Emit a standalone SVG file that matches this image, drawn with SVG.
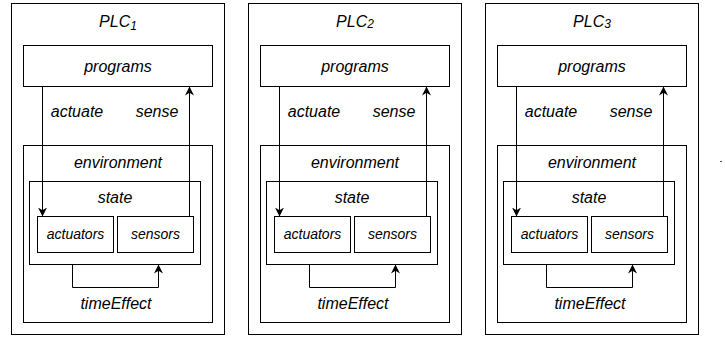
<svg xmlns="http://www.w3.org/2000/svg" width="725" height="337" viewBox="0 0 725 337">
<style>
.b{fill:#fff;stroke:#000;stroke-width:1}
.c{fill:none;stroke:#000;stroke-width:1}
text{font-family:"Liberation Sans",Arial,sans-serif;font-style:italic;font-size:16px;fill:#000;text-anchor:middle}
.s{font-size:14px}
</style>
<defs>
<marker id="arr" viewBox="0 0 10 10" refX="10" refY="5" markerWidth="9" markerHeight="9" markerUnits="userSpaceOnUse" orient="auto">
<path d="M0,0 L10,5 L0,10 L3,5 z" fill="#000"/>
</marker>
</defs>
<g id="plc1">
<rect class="b" x="11.5" y="3.5" width="213" height="331"/>
<text x="118" y="27">PLC<tspan font-size="12" dy="3">1</tspan></text>
<g id="programs1"><rect class="b" x="23.5" y="45.5" width="189" height="41"/><text x="118" y="72">programs</text></g>
<g id="environment1"><rect class="b" x="23.5" y="145.5" width="189" height="177"/><text x="118" y="168">environment</text></g>
<g id="state1"><rect class="b" x="29.5" y="181.5" width="171" height="83"/><text x="115" y="203">state</text></g>
<g id="actuators1"><rect class="b" x="37.5" y="216.5" width="76" height="36"/><text class="s" x="75.5" y="239">actuators</text></g>
<g id="sensors1"><rect class="b" x="117.5" y="216.5" width="76" height="36"/><text class="s" x="155.5" y="239">sensors</text></g>
</g>
<g id="plc2" transform="translate(237,0)">
<rect class="b" x="11.5" y="3.5" width="213" height="331"/>
<text x="118" y="27">PLC<tspan font-size="12" dy="1">2</tspan></text>
<g id="programs2"><rect class="b" x="23.5" y="45.5" width="189" height="41"/><text x="118" y="72">programs</text></g>
<g id="environment2"><rect class="b" x="23.5" y="145.5" width="189" height="177"/><text x="118" y="168">environment</text></g>
<g id="state2"><rect class="b" x="29.5" y="181.5" width="171" height="83"/><text x="115" y="203">state</text></g>
<g id="actuators2"><rect class="b" x="37.5" y="216.5" width="76" height="36"/><text class="s" x="75.5" y="239">actuators</text></g>
<g id="sensors2"><rect class="b" x="117.5" y="216.5" width="76" height="36"/><text class="s" x="155.5" y="239">sensors</text></g>
</g>
<g id="plc3" transform="translate(474,0)">
<rect class="b" x="11.5" y="3.5" width="213" height="331"/>
<text x="118" y="27">PLC<tspan font-size="12" dy="1">3</tspan></text>
<g id="programs3"><rect class="b" x="23.5" y="45.5" width="189" height="41"/><text x="118" y="72">programs</text></g>
<g id="environment3"><rect class="b" x="23.5" y="145.5" width="189" height="177"/><text x="118" y="168">environment</text></g>
<g id="state3"><rect class="b" x="29.5" y="181.5" width="171" height="83"/><text x="115" y="203">state</text></g>
<g id="actuators3"><rect class="b" x="37.5" y="216.5" width="76" height="36"/><text class="s" x="75.5" y="239">actuators</text></g>
<g id="sensors3"><rect class="b" x="117.5" y="216.5" width="76" height="36"/><text class="s" x="155.5" y="239">sensors</text></g>
</g>
<g id="connectors">
<g transform="translate(0,0)">
<path class="c" d="M42.5,86.5 V216.5" marker-end="url(#arr)"/>
<path class="c" d="M189.5,216.5 V86.5" marker-end="url(#arr)"/>
<path class="c" d="M72.5,264.5 V287.5 H158.5 V264.5" marker-end="url(#arr)"/>
<text x="77" y="117">actuate</text><text x="157" y="117">sense</text><text x="116" y="309">timeEffect</text>
</g>
<g transform="translate(237,0)">
<path class="c" d="M42.5,86.5 V216.5" marker-end="url(#arr)"/>
<path class="c" d="M189.5,216.5 V86.5" marker-end="url(#arr)"/>
<path class="c" d="M72.5,264.5 V287.5 H158.5 V264.5" marker-end="url(#arr)"/>
<text x="77" y="117">actuate</text><text x="157" y="117">sense</text><text x="116" y="309">timeEffect</text>
</g>
<g transform="translate(474,0)">
<path class="c" d="M42.5,86.5 V216.5" marker-end="url(#arr)"/>
<path class="c" d="M189.5,216.5 V86.5" marker-end="url(#arr)"/>
<path class="c" d="M72.5,264.5 V287.5 H158.5 V264.5" marker-end="url(#arr)"/>
<text x="77" y="117">actuate</text><text x="157" y="117">sense</text><text x="116" y="309">timeEffect</text>
</g>
</g>
<rect x="720" y="161" width="2" height="1" fill="#555"/>
</svg>
